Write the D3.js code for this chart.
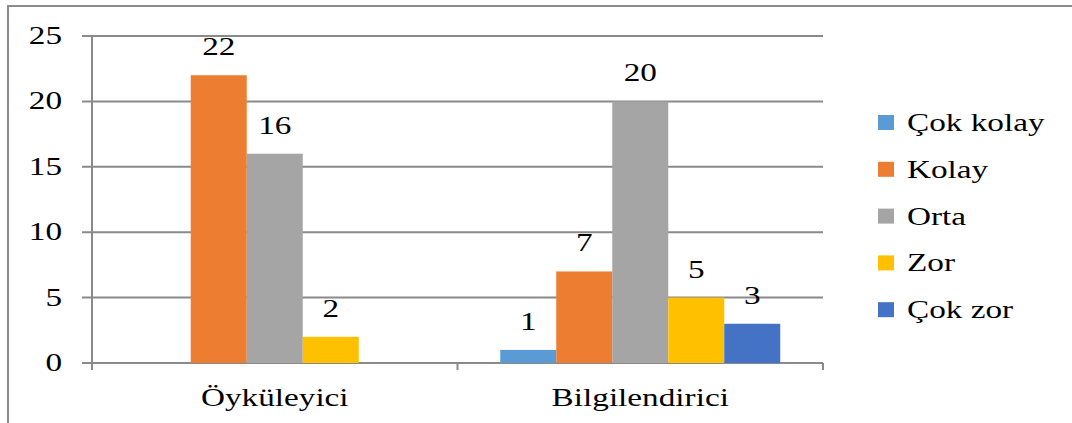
<!DOCTYPE html>
<html>
<head>
<meta charset="utf-8">
<script src="https://cdn.jsdelivr.net/npm/d3@7"></script>
<style>
  body { margin: 0; background: #fff; }
  text { font-family: "Liberation Serif", "Times New Roman", serif; fill: #000; }
</style>
</head>
<body>
<svg width="1072" height="423"></svg>
<script>
var categories = ["Öyküleyici", "Bilgilendirici"];
var seriesNames = ["Çok kolay", "Kolay", "Orta", "Zor", "Çok zor"];
var colors = ["#5B9BD5", "#ED7D31", "#A5A5A5", "#FFC000", "#4472C4"];
// values per series, in category order (null = no bar)
var cokKolay = [null, 1];
var kolay = [22, 7];
var orta = [16, 20];
var zor = [2, 5];
var cokZor = [null, 3];
var yTicks = [0, 5, 10, 15, 20, 25];

var series = [cokKolay, kolay, orta, zor, cokZor];
var sx = 1.33; // text looks horizontally stretched in the original
var fs = "25px";

var svg = d3.select("svg");

// outer frame, runs off the right and bottom edges
svg.append("rect")
    .attr("x", 8).attr("y", 6)
    .attr("width", 1100).attr("height", 450)
    .attr("fill", "none")
    .attr("stroke", "#8c8c8c")
    .attr("stroke-width", 2);

var plotLeft = 92, plotRight = 823, plotTop = 36, plotBottom = 363;

var x0 = d3.scaleBand().domain(categories).range([plotLeft, plotRight]);
var x1 = d3.scaleBand().domain(seriesNames).range([0, 280]);
var y = d3.scaleLinear().domain([0, 25]).range([plotBottom, plotTop]);

// gridlines
svg.append("g")
  .selectAll("line")
  .data(yTicks)
  .enter().append("line")
    .attr("x1", plotLeft - 10).attr("x2", plotRight)
    .attr("y1", function(d) { return y(d); })
    .attr("y2", function(d) { return y(d); })
    .attr("stroke", "#8a8a8a")
    .attr("stroke-width", 2);

// y axis line
svg.append("line")
    .attr("x1", plotLeft).attr("x2", plotLeft)
    .attr("y1", plotTop).attr("y2", plotBottom + 7)
    .attr("stroke", "#8a8a8a").attr("stroke-width", 2);

// x ticks at band boundaries
svg.append("g")
  .selectAll("line")
  .data([plotLeft, x0("Bilgilendirici"), plotRight])
  .enter().append("line")
    .attr("x1", function(d) { return d; })
    .attr("x2", function(d) { return d; })
    .attr("y1", plotBottom).attr("y2", plotBottom + 7)
    .attr("stroke", "#8a8a8a").attr("stroke-width", 2);

// y labels
svg.append("g")
  .selectAll("text")
  .data(yTicks)
  .enter().append("text")
    .attr("transform", function(d) { return "translate(62," + (y(d) + 8) + ") scale(" + sx + ",1)"; })
    .attr("text-anchor", "end")
    .style("font-size", fs)
    .text(function(d) { return d; });

// bars
var groups = svg.append("g")
  .selectAll("g")
  .data(categories)
  .enter().append("g")
    .attr("transform", function(d) {
        return "translate(" + (x0(d) + x0.bandwidth() / 2 - 140) + ",0)";
    });

groups.each(function(cat, ci) {
    var g = d3.select(this);
    var pts = seriesNames.map(function(s, si) {
        return {name: s, value: series[si][ci], color: colors[si]};
    }).filter(function(d) { return d.value != null; });

    g.selectAll("rect")
      .data(pts)
      .enter().append("rect")
        .attr("x", function(d) { return x1(d.name); })
        .attr("width", x1.bandwidth())
        .attr("y", function(d) { return y(d.value); })
        .attr("height", function(d) { return y(0) - y(d.value); })
        .attr("fill", function(d) { return d.color; });

    g.selectAll("text")
      .data(pts)
      .enter().append("text")
        .attr("transform", function(d) {
            return "translate(" + (x1(d.name) + x1.bandwidth() / 2) + "," + (y(d.value) - 20) + ") scale(" + sx + ",1)";
        })
        .attr("text-anchor", "middle")
        .style("font-size", fs)
        .text(function(d) { return d.value; });
});

// category labels
svg.append("g")
  .selectAll("text")
  .data(categories)
  .enter().append("text")
    .attr("transform", function(d) { return "translate(" + (x0(d) + x0.bandwidth() / 2) + ",406) scale(" + sx + ",1)"; })
    .attr("text-anchor", "middle")
    .style("font-size", fs)
    .text(function(d) { return d; });

// legend
var legend = svg.append("g")
  .selectAll("g")
  .data(seriesNames)
  .enter().append("g")
    .attr("transform", function(d, i) { return "translate(878," + (115 + i * 46.8) + ")"; });

legend.append("rect")
    .attr("width", 16).attr("height", 15)
    .attr("fill", function(d, i) { return colors[i]; });

legend.append("text")
    .attr("transform", "translate(29,16) scale(" + sx + ",1)")
    .style("font-size", fs)
    .text(function(d) { return d; });
</script>
</body>
</html>
